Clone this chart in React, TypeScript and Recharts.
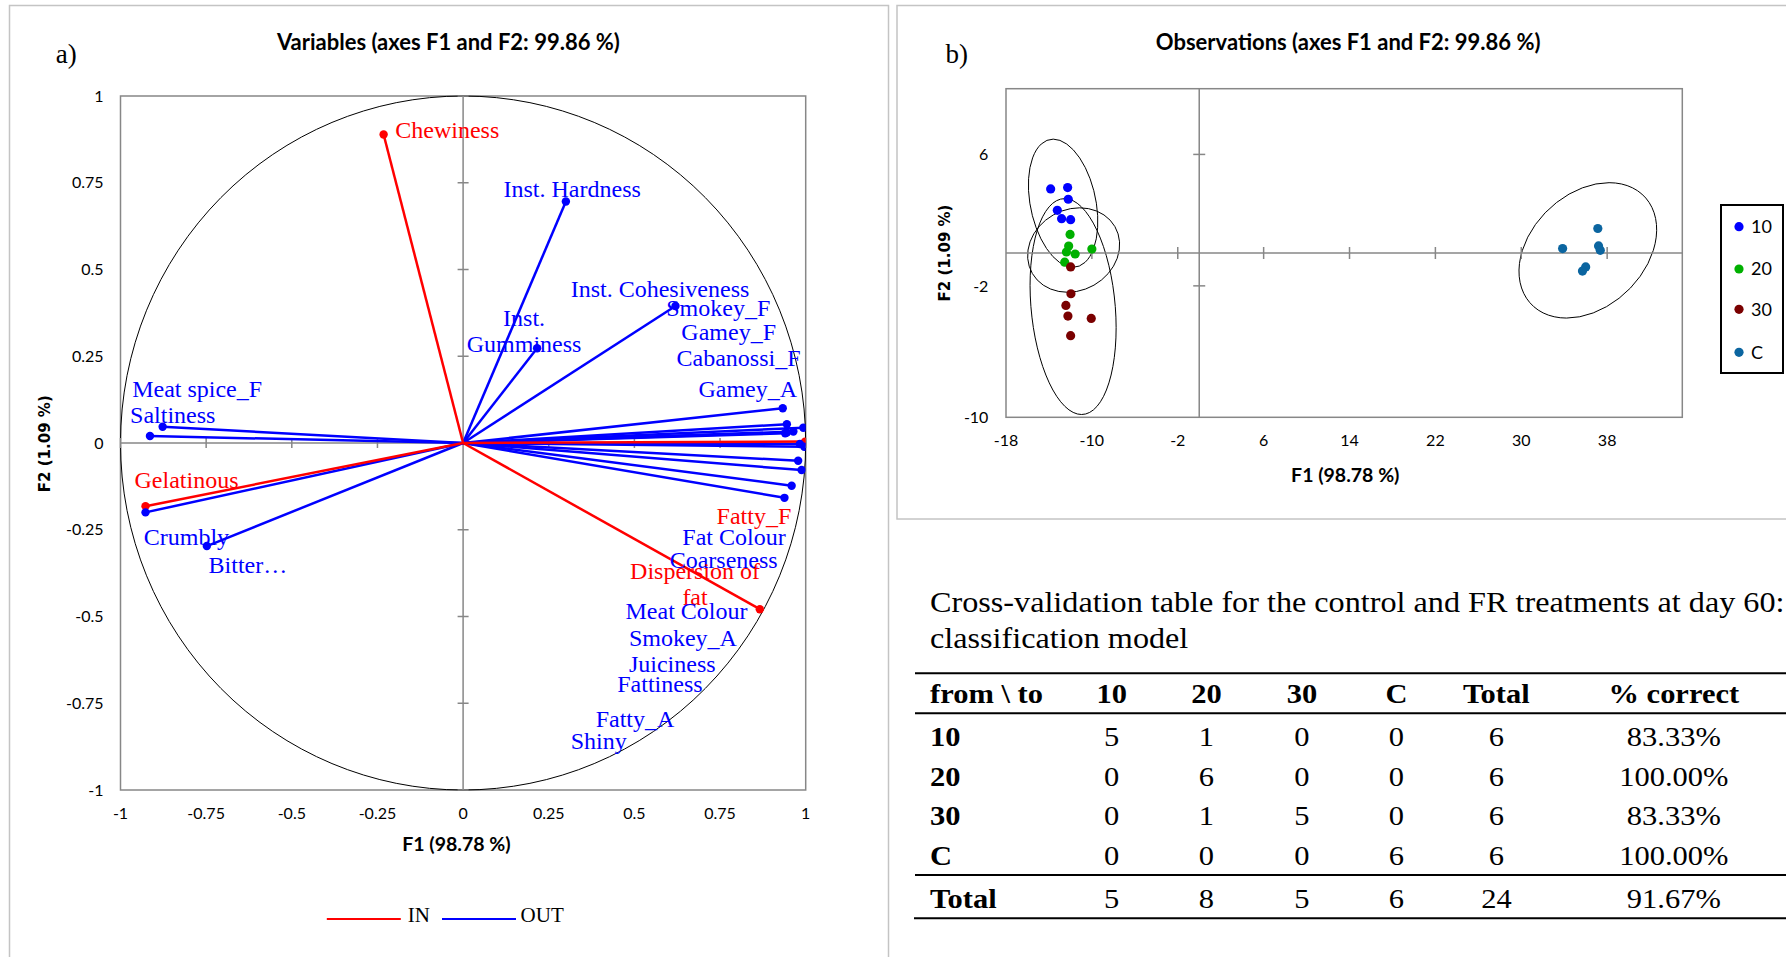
import React from "react";
import {
  ScatterChart,
  Scatter,
  XAxis,
  YAxis,
  ReferenceLine,
  ReferenceArea,
  ReferenceDot,
} from "recharts";

// a) variables, correlation circle
const varNames = [
  "Chewiness", "Inst. Hardness", "Inst. Gumminess", "Inst. Cohesiveness",
  "Smokey_F", "Gamey_F", "Cabanossi_F", "Gamey_A", "Meat spice_F", "Saltiness",
  "Gelatinous", "Crumbly", "Bitter…", "Fatty_F", "Fat Colour", "Coarseness",
  "Dispersion of fat", "Meat Colour", "Smokey_A", "Juiciness", "Fattiness",
  "Fatty_A", "Shiny",
];
// label text as printed ("\n" = line break)
const varLabels = [
  "Chewiness", "Inst. Hardness", "Inst.\nGumminess", "Inst. Cohesiveness",
  "Smokey_F", "Gamey_F", "Cabanossi_F", "Gamey_A", "Meat spice_F", "Saltiness",
  "Gelatinous", "Crumbly", "Bitter…", "Fatty_F", "Fat Colour", "Coarseness",
  "Dispersion of\nfat", "Meat Colour", "Smokey_A", "Juiciness", "Fattiness",
  "Fatty_A", "Shiny",
];
const varGroup = [
  "IN", "OUT", "OUT", "OUT", "OUT", "OUT", "OUT", "OUT", "OUT", "OUT",
  "IN", "OUT", "OUT", "IN", "OUT", "OUT", "IN", "OUT", "OUT", "OUT", "OUT",
  "OUT", "OUT",
];
const varF1 = [
  -0.232, 0.3, 0.216, 0.62, 0.945, 0.993, 0.964, 0.933, -0.877, -0.914,
  -0.927, -0.927, -0.748, 0.998, 0.945, 0.983, 0.866, 0.996, 0.978, 0.988,
  0.959, 0.938, 0.94,
];
const varF2 = [
  0.889, 0.696, 0.273, 0.395, 0.054, 0.044, 0.033, 0.1, 0.047, 0.02,
  -0.182, -0.2, -0.297, 0.004, 0.03, -0.003, -0.479, -0.011, -0.051, -0.078,
  -0.123, -0.158, 0.028,
];
// where each label sits (F1, F2 units)
const labelF1 = [
  -0.198, 0.118, 0.178, 0.314, 0.593, 0.637, 0.623, 0.687, -0.966, -0.972,
  -0.959, -0.932, -0.743, 0.74, 0.64, 0.603, 0.677, 0.474, 0.484, 0.484,
  0.45, 0.387, 0.314,
];
const labelF2 = [
  0.903, 0.732, 0.323, 0.446, 0.391, 0.322, 0.246, 0.158, 0.158, 0.082,
  -0.105, -0.269, -0.351, -0.21, -0.269, -0.335, -0.405, -0.483, -0.561, -0.637,
  -0.693, -0.794, -0.857,
];
const circleTicks = [-1, -0.75, -0.5, -0.25, 0, 0.25, 0.5, 0.75, 1];
const varGroups = ["IN", "OUT"];
const varColors: Record<string, string> = { IN: "#ff0000", OUT: "#0000ff" };

// b) observations
const obsGroups = ["10", "20", "30", "C"];
const obsColors = ["#0000ff", "#00b000", "#7a0000", "#0b65a0"];
const obsF1 = [
  [-13.84, -12.26, -12.2, -13.22, -12.82, -11.98],
  [-12.03, -12.16, -12.37, -11.56, -10.0, -12.53],
  [-11.98, -11.95, -12.42, -12.23, -10.06, -11.98],
  [33.85, 37.13, 37.2, 37.36, 36.0, 35.7],
];
const obsF2 = [
  [3.9, 3.98, 3.27, 2.6, 2.09, 2.03],
  [1.13, 0.42, 0.06, -0.06, 0.24, -0.56],
  [-0.85, -2.48, -3.19, -3.84, -3.98, -5.03],
  [0.27, 1.49, 0.43, 0.16, -0.85, -1.1],
];
// confidence ellipses: centre and two conjugate half-axes (u, v) in F1/F2 units
const ellCenterF1 = [-12.68, -11.7, -11.75, 36.2];
const ellCenterF2 = [3.03, 0.18, -3.26, 0.16];
const ellUF1 = [-0.92, 0.56, -0.79, 1.98];
const ellUF2 = [3.9, 2.57, 6.57, 4.12];
const ellVF1 = [3.1, 4.25, 3.93, 6.1];
const ellVF2 = [0, 0, 0, 0];
const obsXDomain = [-18, 45];
const obsYDomain = [-10, 10];
const obsXTicks = [-18, -10, -2, 6, 14, 22, 30, 38];
const obsYTicks = [-10, -2, 6];

// cross-validation table
const tableHead = ["from \\ to", "10", "20", "30", "C", "Total", "% correct"];
const tableRowNames = ["10", "20", "30", "C"];
const tableCounts = [
  [5, 1, 0, 0, 6],
  [0, 6, 0, 0, 6],
  [0, 1, 5, 0, 6],
  [0, 0, 0, 6, 6],
];
const tablePct = ["83.33%", "100.00%", "83.33%", "100.00%"];
const tableTotals = [5, 8, 5, 6, 24];
const tableTotalPct = "91.67%";

const GRAY = "#878787";
const SERIF = "'Liberation Serif', 'Times New Roman', serif";
const SANS = "Lato, 'Liberation Sans', sans-serif";
const tickStyle = { fill: "#000", fontSize: 16, fontFamily: SANS };

const vectors = varNames.map((name, i) => ({
  name,
  x: varF1[i],
  y: varF2[i],
  group: varGroup[i],
}));
const labelPoints = varLabels.map((text, i) => ({
  text,
  x: labelF1[i],
  y: labelF2[i],
  group: varGroup[i],
}));
const obsData = obsGroups.map((g, k) =>
  obsF1[k].map((x, i) => ({ x, y: obsF2[k][i], group: g }))
);

const noShape = () => <g />;

function PlotFrame(p: any) {
  return (
    <rect x={p.x} y={p.y} width={p.width} height={p.height} fill="none" stroke={GRAY} strokeWidth={1.5} />
  );
}

function UnitCircle(p: any) {
  return (
    <ellipse
      cx={p.x + p.width / 2}
      cy={p.y + p.height / 2}
      rx={p.width / 2}
      ry={p.height / 2}
      fill="none"
      stroke="#000"
      strokeWidth={1}
    />
  );
}

const hMark = (len: number) => (p: any) =>
  <line x1={p.cx - len} x2={p.cx + len} y1={p.cy} y2={p.cy} stroke={GRAY} strokeWidth={1.5} />;
const vMark = (len: number) => (p: any) =>
  <line x1={p.cx} x2={p.cx} y1={p.cy - len} y2={p.cy + len} stroke={GRAY} strokeWidth={1.5} />;

function VarLabel(p: any) {
  const { cx, cy, payload } = p;
  const lines: string[] = payload.text.split("\n");
  const multi = lines.length > 1;
  return (
    <text
      fill={varColors[payload.group]}
      fontFamily={SERIF}
      fontSize={24}
      textAnchor={multi ? "middle" : "start"}
    >
      {lines.map((l, k) => (
        <tspan key={k} x={cx} y={cy + (k - (lines.length - 1) / 2) * 26} dy="0.35em">
          {l}
        </tspan>
      ))}
    </text>
  );
}

const dot = (r: number) => (p: any) => <circle cx={p.cx} cy={p.cy} r={r} fill={p.fill} />;

// maps whole-domain rect to the ellipses through the chart's own scale
function Ellipses(p: any) {
  const sx = p.width / (obsXDomain[1] - obsXDomain[0]);
  const sy = p.height / (obsYDomain[1] - obsYDomain[0]);
  const px = (v: number) => p.x + (v - obsXDomain[0]) * sx;
  const py = (v: number) => p.y + (obsYDomain[1] - v) * sy;
  return (
    <g>
      {ellCenterF1.map((c, i) => (
        <circle
          key={i}
          cx={0}
          cy={0}
          r={1}
          fill="none"
          stroke="#000"
          strokeWidth={1}
          vectorEffect="non-scaling-stroke"
          transform={`matrix(${sx * ellUF1[i]} ${-sy * ellUF2[i]} ${sx * ellVF1[i]} ${-sy * ellVF2[i]} ${px(c)} ${py(ellCenterF2[i])})`}
        />
      ))}
    </g>
  );
}

function VariablesChart() {
  return (
    <ScatterChart width={890} height={957} margin={{ top: 96, right: 84.3, bottom: 127, left: 60.5 }}>
      <XAxis
        type="number"
        dataKey="x"
        domain={[-1, 1]}
        ticks={circleTicks}
        allowDataOverflow
        axisLine={false}
        tickLine={false}
        tickSize={0}
        tickMargin={18}
        height={40}
        interval={0}
        tick={tickStyle}
      />
      <YAxis
        type="number"
        dataKey="y"
        domain={[-1, 1]}
        ticks={circleTicks}
        allowDataOverflow
        axisLine={false}
        tickLine={false}
        tickSize={0}
        tickMargin={17}
        width={60}
        interval={0}
        tick={tickStyle}
      />
      <ReferenceArea x1={-1} x2={1} y1={-1} y2={1} shape={PlotFrame} />
      <ReferenceLine x={0} stroke={GRAY} strokeWidth={1.5} />
      <ReferenceLine y={0} stroke={GRAY} strokeWidth={1.5} />
      {circleTicks
        .filter((t) => t !== 0)
        .map((t) => (
          <ReferenceDot key={"h" + t} x={0} y={t} shape={hMark(5.5)} />
        ))}
      {circleTicks
        .filter((t) => t !== 0)
        .map((t) => (
          <ReferenceDot key={"v" + t} x={t} y={0} shape={vMark(5)} />
        ))}
      <ReferenceArea x1={-1} x2={1} y1={-1} y2={1} shape={UnitCircle} />
      {["OUT", "IN"].map((g) =>
        vectors
          .filter((v) => v.group === g)
          .map((v) => (
            <Scatter
              key={v.name}
              data={[{ x: 0, y: 0 }, { x: v.x, y: v.y }]}
              fill={varColors[g]}
              line={{ strokeWidth: 2.5 }}
              shape={noShape}
              isAnimationActive={false}
            />
          ))
      )}
      {["IN", "OUT"].map((g) => (
        <Scatter
          key={"end" + g}
          data={vectors.filter((v) => v.group === g)}
          fill={varColors[g]}
          shape={dot(4.2)}
          isAnimationActive={false}
        />
      ))}
      <Scatter data={labelPoints} shape={VarLabel} isAnimationActive={false} />
    </ScatterChart>
  );
}

function ObservationsChart() {
  const marks = (arr: number[], lo: number) => arr.filter((t) => t !== 0 && t !== lo);
  return (
    <ScatterChart width={896} height={530} margin={{ top: 88.7, right: 103.7, bottom: 72.7, left: 56 }}>
      <XAxis
        type="number"
        dataKey="x"
        domain={obsXDomain}
        ticks={obsXTicks}
        allowDataOverflow
        axisLine={false}
        tickLine={false}
        tickSize={0}
        tickMargin={17.7}
        height={40}
        interval={0}
        tick={tickStyle}
      />
      <YAxis
        type="number"
        dataKey="y"
        domain={obsYDomain}
        ticks={obsYTicks}
        allowDataOverflow
        axisLine={false}
        tickLine={false}
        tickSize={0}
        tickMargin={17.6}
        width={60}
        interval={0}
        tick={tickStyle}
      />
      <ReferenceArea
        x1={obsXDomain[0]}
        x2={obsXDomain[1]}
        y1={obsYDomain[0]}
        y2={obsYDomain[1]}
        shape={PlotFrame}
      />
      <ReferenceLine x={0} stroke={GRAY} strokeWidth={1.5} />
      <ReferenceLine y={0} stroke={GRAY} strokeWidth={1.5} />
      {marks(obsYTicks, obsYDomain[0]).map((t) => (
        <ReferenceDot key={"h" + t} x={0} y={t} shape={hMark(6)} />
      ))}
      {marks(obsXTicks, obsXDomain[0]).map((t) => (
        <ReferenceDot key={"v" + t} x={t} y={0} shape={vMark(6)} />
      ))}
      <ReferenceArea
        x1={obsXDomain[0]}
        x2={obsXDomain[1]}
        y1={obsYDomain[0]}
        y2={obsYDomain[1]}
        shape={Ellipses}
      />
      {obsGroups.map((g, k) => (
        <Scatter
          key={g}
          name={g}
          data={obsData[k]}
          fill={obsColors[k]}
          shape={dot(4.6)}
          isAnimationActive={false}
        />
      ))}
    </ScatterChart>
  );
}

const TS = 1.13; // table print is slightly stretched horizontally
const colX = [1111.7, 1206.5, 1302, 1396.5, 1496.4, 1673.8];
const rowY = [746, 785.7, 825.5, 865];

function Overlay() {
  return (
    <svg
      width={1786}
      height={957}
      style={{ position: "absolute", left: 0, top: 0, pointerEvents: "none" }}
    >
      <rect x={9.5} y={5.5} width={879} height={960} fill="none" stroke="#c4c4c4" strokeWidth={1.5} />
      <rect x={897} y={5.5} width={900} height={513.5} fill="none" stroke="#c4c4c4" strokeWidth={1.5} />

      <text x={55.7} y={62.5} fontFamily={SERIF} fontSize={27}>a)</text>
      <text x={945.5} y={63} fontFamily={SERIF} fontSize={27}>b)</text>

      <text x={448.4} y={42} dy="0.35em" textAnchor="middle" fontFamily={SANS} fontWeight="bold" fontSize={22}>
        Variables (axes F1 and F2: 99.86 %)
      </text>
      <text x={1348.2} y={42.5} dy="0.35em" textAnchor="middle" fontFamily={SANS} fontWeight="bold" fontSize={22}>
        Observations (axes F1 and F2: 99.86 %)
      </text>

      <text x={456.4} y={844} dy="0.35em" textAnchor="middle" fontFamily={SANS} fontWeight="bold" fontSize={19.5}>
        F1 (98.78 %)
      </text>
      <text
        transform="translate(44.5 443.7) rotate(-90)"
        dy="0.35em"
        textAnchor="middle"
        fontFamily="'DejaVu Sans', sans-serif"
        fontWeight="bold"
        fontSize={15}
      >
        F2 (1.09 %)
      </text>
      <text x={1345.3} y={475} dy="0.35em" textAnchor="middle" fontFamily={SANS} fontWeight="bold" fontSize={19.5}>
        F1 (98.78 %)
      </text>
      <text
        transform="translate(945 253) rotate(-90)"
        dy="0.35em"
        textAnchor="middle"
        fontFamily="'DejaVu Sans', sans-serif"
        fontWeight="bold"
        fontSize={15}
      >
        F2 (1.09 %)
      </text>

      {/* legend a */}
      {varGroups.map((g, i) => {
        const x0 = i === 0 ? 326.8 : 442;
        return (
          <g key={g}>
            <line x1={x0} x2={x0 + 74} y1={919} y2={919} stroke={varColors[g]} strokeWidth={2} />
            <text x={x0 + (i === 0 ? 81 : 78.6)} y={922.3} fontFamily={SERIF} fontSize={21}>
              {g}
            </text>
          </g>
        );
      })}

      {/* legend b */}
      <rect x={1721} y={205} width={62} height={168} fill="#fff" stroke="#000" strokeWidth={2} />
      {obsGroups.map((g, k) => {
        const y = [226.7, 269, 309.3, 352.3][k];
        return (
          <g key={g}>
            <circle cx={1739} cy={y} r={4.6} fill={obsColors[k]} />
            <text x={1751} y={y} dy="0.35em" fontFamily={SANS} fontSize={18}>
              {g}
            </text>
          </g>
        );
      })}

      {/* caption + table */}
      <g transform={`scale(${TS} 1)`} fontFamily={SERIF}>
        <text x={930 / TS} y={611.7} fontSize={28.5}>
          Cross-validation table for the control and FR treatments at day 60:
        </text>
        <text x={930 / TS} y={647.7} fontSize={28.5}>
          classification model
        </text>
        {tableHead.map((h, j) => (
          <text
            key={h}
            x={(j === 0 ? 930 : colX[j - 1]) / TS}
            y={703}
            fontSize={27}
            fontWeight="bold"
            textAnchor={j === 0 ? "start" : "middle"}
          >
            {h}
          </text>
        ))}
        {tableRowNames.map((r, i) => (
          <g key={r} fontSize={27}>
            <text x={930 / TS} y={rowY[i]} fontWeight="bold">
              {r}
            </text>
            {tableCounts[i].map((v, j) => (
              <text key={j} x={colX[j] / TS} y={rowY[i]} textAnchor="middle">
                {v}
              </text>
            ))}
            <text x={colX[5] / TS} y={rowY[i]} textAnchor="middle">
              {tablePct[i]}
            </text>
          </g>
        ))}
        <g fontSize={27}>
          <text x={930 / TS} y={907.7} fontWeight="bold">
            Total
          </text>
          {tableTotals.map((v, j) => (
            <text key={j} x={colX[j] / TS} y={907.7} textAnchor="middle">
              {v}
            </text>
          ))}
          <text x={colX[5] / TS} y={907.7} textAnchor="middle">
            {tableTotalPct}
          </text>
        </g>
      </g>
      <line x1={915} x2={1786} y1={673.3} y2={673.3} stroke="#000" strokeWidth={2} />
      <line x1={915} x2={1786} y1={713.3} y2={713.3} stroke="#000" strokeWidth={2} />
      <line x1={915} x2={1786} y1={875} y2={875} stroke="#000" strokeWidth={2} />
      <line x1={914} x2={1786} y1={918.3} y2={918.3} stroke="#000" strokeWidth={2} />
    </svg>
  );
}

export default function App() {
  return (
    <div
      style={{
        position: "absolute",
        left: 0,
        top: 0,
        width: 1786,
        height: 957,
        background: "#fff",
        overflow: "hidden",
      }}
    >
      <div style={{ position: "absolute", left: 0, top: 0 }}>
        <VariablesChart />
      </div>
      <div style={{ position: "absolute", left: 890, top: 0 }}>
        <ObservationsChart />
      </div>
      <Overlay />
    </div>
  );
}
